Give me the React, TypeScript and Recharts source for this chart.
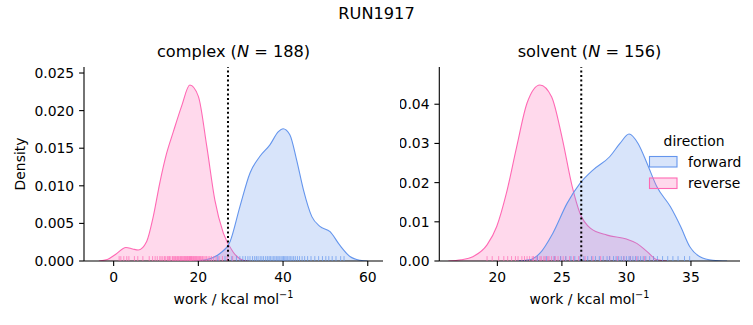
import { Area, ComposedChart, ReferenceLine, Scatter, XAxis, YAxis } from "recharts";

const FORWARD = "#6495ed";
const REVERSE = "#ff69b4";
const FONT = "DejaVu Sans, sans-serif";

// KDE curves: [work, density]
const complexForwardKde: [number, number][] = [
  [19, 0], [22, 0.0002], [25.1, 0.001], [27.5, 0.0026], [29.8, 0.0072], [32.2, 0.0117],
  [34.5, 0.0139], [36.9, 0.01545], [38.9, 0.0172], [40, 0.01758], [41.6, 0.0168],
  [43.2, 0.01345], [44.8, 0.0095], [46.8, 0.0059], [48.7, 0.0046], [51.1, 0.0039],
  [53.4, 0.0021], [55.8, 0.0006], [58.2, 0.0001], [60, 0],
];
const complexReverseKde: [number, number][] = [
  [-3.5, 0], [-1.5, 0.0002], [0.5, 0.0009], [2.9, 0.0018], [4.5, 0.0016], [5.8, 0.00146],
  [7.8, 0.0026], [9.35, 0.0059], [10.9, 0.0104], [12.5, 0.0143], [14.1, 0.0172],
  [16.05, 0.0206], [18, 0.0234], [20, 0.0219], [22, 0.0152], [23.9, 0.0081],
  [25.9, 0.0037], [28.2, 0.0012], [30.6, 0.0001], [32, 0],
];
const solventForwardKde: [number, number][] = [
  [21.5, 0], [22.5, 0.0003], [23.3, 0.002], [24.3, 0.0071], [25.4, 0.0147], [26.4, 0.0198],
  [27.4, 0.0232], [28.7, 0.0266], [29.5, 0.03], [30.2, 0.0324], [30.9, 0.03], [31.6, 0.0249],
  [32.35, 0.019], [33.4, 0.0139], [34.2, 0.0088], [34.9, 0.0037], [35.7, 0.0011],
  [36.7, 0.0002], [37.8, 0],
];
const solventReverseKde: [number, number][] = [
  [16.2, 0], [17.2, 0.0003], [18.1, 0.0011], [19.2, 0.0041], [19.95, 0.0088], [20.7, 0.0173],
  [21.5, 0.0292], [22.3, 0.0403], [23.3, 0.0449], [24.2, 0.0419], [25, 0.0317], [25.8, 0.019],
  [26.4, 0.0122], [27.2, 0.0084], [28.5, 0.0066], [30, 0.0056], [30.8, 0.0045],
  [31.6, 0.0024], [32.4, 0.0003], [33.2, 0],
];

// rug samples
const complexForwardRug = [
  24.6, 26.3, 27.9, 29.0, 29.8, 30.5, 31.1, 31.7, 32.2, 32.8, 33.3, 33.7, 34.1, 34.6, 35.0,
  35.4, 35.9, 36.3, 36.7, 37.0, 37.4, 37.8, 38.1, 38.5, 38.8, 39.1, 39.5, 39.8, 40.1, 40.4,
  40.7, 41.0, 41.4, 41.7, 42.1, 42.5, 42.9, 43.4, 43.9, 44.5, 45.1, 45.8, 46.6, 47.5, 48.4,
  49.3, 50.1, 50.8, 51.6, 52.5, 53.6, 54.4,
];
const complexReverseRug = [
  1.3, 1.7, 2.4, 3.1, 3.6, 4.9, 5.7, 6.9, 8.4, 9.2, 9.8, 10.3, 10.9, 11.2, 11.6, 12.0, 12.3,
  12.7, 13.0, 13.2, 13.5, 13.9, 14.1, 14.4, 14.6, 14.9, 15.1, 15.3, 15.6, 15.8, 16.0, 16.2,
  16.4, 16.6, 16.8, 16.9, 17.1, 17.3, 17.4, 17.6, 17.8, 17.9, 18.1, 18.2, 18.4, 18.5, 18.7,
  18.9, 19.0, 19.2, 19.4, 19.5, 19.7, 19.9, 20.1, 20.3, 20.5, 20.8, 21.0, 21.3, 21.6, 21.9,
  22.3, 22.7, 23.1, 23.6, 24.2, 24.9, 25.7, 26.8, 28.1,
];
const solventForwardRug = [
  23.1, 23.8, 24.4, 24.9, 25.3, 25.7, 26.0, 26.4, 26.7, 27.0, 27.3, 27.6, 27.9, 28.2, 28.5,
  28.7, 29.0, 29.2, 29.4, 29.6, 29.8, 30.0, 30.2, 30.3, 30.5, 30.7, 30.9, 31.1, 31.3, 31.5,
  31.8, 32.1, 32.4, 32.8, 33.2, 33.6, 34.0, 34.5, 34.9,
];
const solventReverseRug = [
  19.2, 19.6, 20.1, 20.5, 20.8, 21.1, 21.4, 21.6, 21.9, 22.1, 22.3, 22.5, 22.7, 22.8, 23.0,
  23.1, 23.3, 23.4, 23.6, 23.7, 23.9, 24.0, 24.2, 24.4, 24.5, 24.7, 24.9, 25.1, 25.3, 25.6,
  25.9, 26.3, 26.8, 27.4, 28.0, 28.7, 29.3, 29.8, 30.3, 30.8, 31.4, 32.1,
];

const complexXTicks = [0, 20, 40, 60];
const complexYTicks = [0, 0.005, 0.01, 0.015, 0.02, 0.025];
const solventXTicks = [20, 25, 30, 35];
const solventYTicks = [0, 0.01, 0.02, 0.03, 0.04];
const complexCutoff = 27.0;
const solventCutoff = 26.5;

type Row = { x: number; forward?: number; reverse?: number };

function kdeRows(fwd: [number, number][], rev: [number, number][]): Row[] {
  const rows: Row[] = [
    ...fwd.map(([x, d]) => ({ x, forward: d })),
    ...rev.map(([x, d]) => ({ x, reverse: d })),
  ];
  return rows.sort((a, b) => a.x - b.x);
}

const rugShape = (color: string) => (props: any) => {
  const { cx, cy } = props;
  if (cx == null || cy == null) return <g />;
  return <line x1={cx} x2={cx} y1={cy - 4.9} y2={cy} stroke={color} strokeOpacity={0.7} strokeWidth={1} />;
};

const tickStyle = { fill: "#000", fontSize: 13.9, fontFamily: FONT };

type PanelProps = {
  width: number;
  yAxisWidth: number;
  right: number;
  xDomain: [number, number];
  yDomain: [number, number];
  xTicks: number[];
  yTicks: number[];
  digits: number;
  fwdKde: [number, number][];
  revKde: [number, number][];
  fwdRug: number[];
  revRug: number[];
  cutoff: number;
};

function Panel(p: PanelProps) {
  const rows = kdeRows(p.fwdKde, p.revKde);
  return (
    <ComposedChart width={p.width} height={325} data={rows} margin={{ top: 67, right: p.right, bottom: 0, left: 0 }}>
      <XAxis
        type="number" dataKey="x" domain={p.xDomain} ticks={p.xTicks} allowDataOverflow
        height={64} tickSize={4.9} tickMargin={6} interval={0}
        axisLine={{ stroke: "#000", strokeWidth: 1.1 }} tickLine={{ stroke: "#000", strokeWidth: 1.1 }}
        tick={tickStyle}
      />
      <YAxis
        type="number" domain={p.yDomain} ticks={p.yTicks} allowDataOverflow width={p.yAxisWidth}
        tickSize={4.9} tickMargin={4.9} interval={0} tickFormatter={(v: number) => v.toFixed(p.digits)}
        axisLine={{ stroke: "#000", strokeWidth: 1.1 }} tickLine={{ stroke: "#000", strokeWidth: 1.1 }}
        tick={tickStyle}
      />
      <Area type="monotone" dataKey="reverse" connectNulls stroke={REVERSE} strokeWidth={1.1}
        fill={REVERSE} fillOpacity={0.25} isAnimationActive={false} dot={false} activeDot={false} />
      <Area type="monotone" dataKey="forward" connectNulls stroke={FORWARD} strokeWidth={1.1}
        fill={FORWARD} fillOpacity={0.25} isAnimationActive={false} dot={false} activeDot={false} />
      <Scatter data={p.revRug.map((x) => ({ x, y: 0 }))} dataKey="y" shape={rugShape(REVERSE)} isAnimationActive={false} />
      <Scatter data={p.fwdRug.map((x) => ({ x, y: 0 }))} dataKey="y" shape={rugShape(FORWARD)} isAnimationActive={false} />
      <ReferenceLine x={p.cutoff} stroke="#000" strokeWidth={2} strokeDasharray="2 2.6" />
    </ComposedChart>
  );
}

export default function App() {
  return (
    <div style={{ position: "relative", width: 753, height: 325, background: "#fff", fontFamily: FONT }}>
      <style>{"body{margin:0}"}</style>
      <div style={{ position: "absolute", left: 0, top: 0 }}>
        <Panel width={400} yAxisWidth={84} right={17} xDomain={[-7, 63.6]} yDomain={[0, 0.0258]}
          xTicks={complexXTicks} yTicks={complexYTicks} digits={3}
          fwdKde={complexForwardKde} revKde={complexReverseKde}
          fwdRug={complexForwardRug} revRug={complexReverseRug} cutoff={complexCutoff} />
      </div>
      <div style={{ position: "absolute", left: 400, top: 0 }}>
        <Panel width={353} yAxisWidth={39.3} right={13} xDomain={[15.5, 38.8]} yDomain={[0, 0.0495]}
          xTicks={solventXTicks} yTicks={solventYTicks} digits={2}
          fwdKde={solventForwardKde} revKde={solventReverseKde}
          fwdRug={solventForwardRug} revRug={solventReverseRug} cutoff={solventCutoff} />
      </div>
      <svg width={753} height={325} style={{ position: "absolute", left: 0, top: 0, pointerEvents: "none" }}
        fontFamily={FONT} fill="#000">
        <text x={376.5} y={18.5} fontSize={16.2} textAnchor="middle">RUN1917</text>
        <text x={233.5} y={57} fontSize={16.2} textAnchor="middle">
          complex (<tspan fontStyle="italic">N</tspan> = 188)
        </text>
        <text x={589.5} y={57} fontSize={16.2} textAnchor="middle">
          solvent (<tspan fontStyle="italic">N</tspan> = 156)
        </text>
        <text x={233.5} y={303.5} fontSize={13.9} textAnchor="middle">
          work / kcal mol<tspan dy={-5.5} fontSize={9.7}>−1</tspan>
        </text>
        <text x={589.5} y={303.5} fontSize={13.9} textAnchor="middle">
          work / kcal mol<tspan dy={-5.5} fontSize={9.7}>−1</tspan>
        </text>
        <text x={25} y={164} fontSize={13.9} textAnchor="middle" transform="rotate(-90 25 164)">Density</text>
        <text x={694} y={146} fontSize={13.9} textAnchor="middle">direction</text>
        <rect x={649.5} y={156.5} width={27.5} height={10.5} fill={FORWARD} fillOpacity={0.25} stroke={FORWARD} strokeWidth={1.1} />
        <text x={688} y={166.5} fontSize={13.9}>forward</text>
        <rect x={649.5} y={178} width={27.5} height={10.5} fill={REVERSE} fillOpacity={0.25} stroke={REVERSE} strokeWidth={1.1} />
        <text x={688} y={188} fontSize={13.9}>reverse</text>
      </svg>
    </div>
  );
}
